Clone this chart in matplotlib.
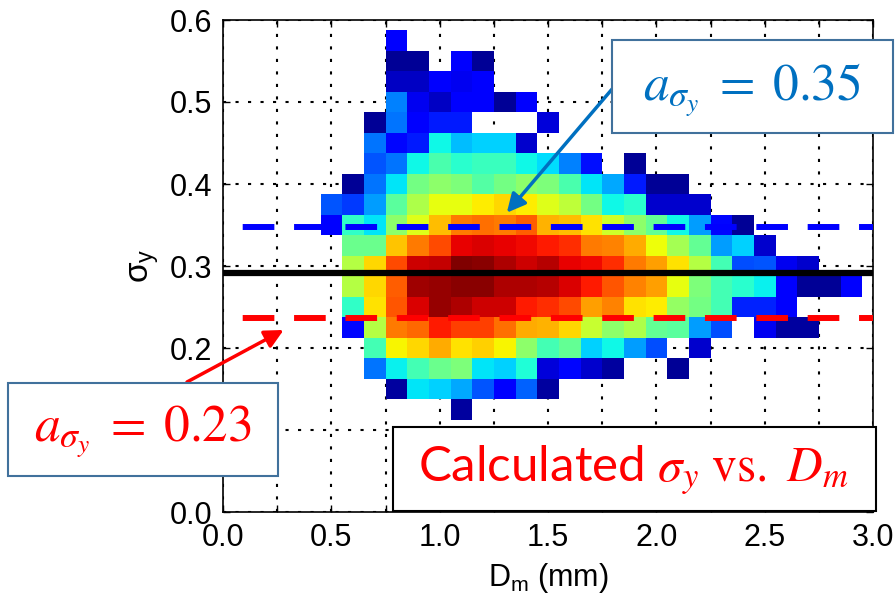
import numpy as np
import matplotlib
matplotlib.use("Agg")
import matplotlib.pyplot as plt
from matplotlib.patches import Rectangle
from matplotlib.ticker import MultipleLocator, FormatStrFormatter

plt.rcParams['font.family'] = ['Liberation Sans', 'DejaVu Sans']
plt.rcParams['mathtext.fontset'] = 'custom'
plt.rcParams['mathtext.rm'] = 'Liberation Sans'
plt.rcParams['mathtext.it'] = 'Liberation Sans:italic'
plt.rcParams['mathtext.sf'] = 'Liberation Sans'

_ = None

# bin centres
d_m = [0.5, 0.6, 0.7, 0.8, 0.9, 1.0, 1.1, 1.2, 1.3, 1.4, 1.5, 1.6, 1.7,
       1.8, 1.9, 2.0, 2.1, 2.2, 2.3, 2.4, 2.5, 2.6, 2.7, 2.8, 2.9]
sigma_y = [0.125, 0.15, 0.175, 0.2, 0.225, 0.25, 0.275, 0.3, 0.325, 0.35,
           0.375, 0.4, 0.425, 0.45, 0.475, 0.5, 0.525, 0.55, 0.575]

# relative count per bin (jet scale, 0..1), one row per sigma_y bin, bottom to top
density = [
    [_, _, _, _, _, _, .03, _, _, _, _, _, _, _, _, _, _, _, _, _, _, _, _, _, _],
    [_, _, _, .03, .35, .33, .29, .21, .12, .22, .03, _, _, _, _, _, _, _, _, _, _, _, _, _, _],
    [_, _, .24, .36, .43, .48, .50, .35, .33, .39, .08, .13, .07, .03, _, _, .02, _, _, _, _, _, _, _, _],
    [_, _, .43, .65, .68, .73, .67, .69, .65, .52, .43, .47, .33, .37, .28, .20, _, .07, _, _, _, _, _, _, _],
    [_, .13, .57, .78, .80, .88, .84, .84, .79, .73, .72, .68, .59, .52, .56, .47, .46, .28, .20, _, .10, .03, .03, _, _],
    [_, .41, .67, .82, .92, .98, .96, .93, .93, .88, .86, .83, .74, .77, .67, .66, .53, .49, .43, .16, .16, .12, _, _, _],
    [_, .57, .68, .81, .97, .98, .99, .99, .96, .96, .95, .92, .88, .82, .77, .74, .63, .50, .43, .40, .36, .12, .02, .02, .12],
    [_, .57, .68, .83, .93, .94, 1.0, .99, .96, .93, .95, .91, .90, .86, .78, .74, .67, .57, .43, .20, .21, .10, .07, _, _],
    [_, .48, .48, .70, .78, .83, .91, .92, .91, .90, .88, .86, .78, .77, .73, .64, .55, .47, .28, .33, .07, _, _, _, _],
    [.12, .41, .35, .52, .62, .71, .78, .79, .78, .81, .72, .71, .67, .60, .52, .47, .37, .28, .13, .02, _, _, _, _, _],
    [.21, .18, .28, .46, .56, .63, .63, .66, .68, .66, .62, .58, .49, .37, .40, .07, .07, .07, _, _, _, _, _, _, _],
    [_, .02, .24, .35, .49, .52, .50, .45, .49, .52, .50, .44, .35, .29, .15, .02, .02, _, _, _, _, _, _, _, _],
    [_, _, .21, .24, .37, .44, .40, .42, .42, .37, .34, .25, .14, _, .02, _, _, _, _, _, _, _, _, _, _],
    [_, _, .24, .13, .15, .37, .31, .33, .33, .07, _, _, _, _, _, _, _, _, _, _, _, _, _, _, _],
    [_, _, .02, .24, .12, .15, .15, _, _, _, .08, _, _, _, _, _, _, _, _, _, _, _, _, _, _],
    [_, _, _, .25, .10, .06, .11, .12, .02, .12, _, _, _, _, _, _, _, _, _, _, _, _, _, _, _],
    [_, _, _, .06, .06, .12, .10, .12, _, _, _, _, _, _, _, _, _, _, _, _, _, _, _, _, _],
    [_, _, _, .02, .02, _, .12, .02, _, _, _, _, _, _, _, _, _, _, _, _, _, _, _, _, _],
    [_, _, _, .12, _, _, _, _, _, _, _, _, _, _, _, _, _, _, _, _, _, _, _, _, _],
]

# reference lines
a_sigma_low = 0.237
sigma_mean = 0.292
a_sigma_high = 0.347

W, H = 896, 607
fig = plt.figure(figsize=(W / 100, H / 100), dpi=100)
ax = fig.add_axes([223 / W, 1 - 512 / H, 650 / W, 492 / H])

z = np.array([[np.nan if v is None else v for v in row] for row in density])
ax.pcolormesh(d_m, sigma_y, np.ma.masked_invalid(z), cmap='jet', vmin=0, vmax=1,
              shading='nearest', zorder=1)

dash = (5.3, (5.3, 3.3))
ax.axhline(a_sigma_high, color='#0000FF', lw=4.3, linestyle=dash, zorder=3)
ax.axhline(a_sigma_low, color='#FF0000', lw=4.3, linestyle=dash, zorder=3)
ax.axhline(sigma_mean, color='black', lw=4.5, zorder=3)

ax.set_xlim(0, 3)
ax.set_ylim(0, 0.6)
ax.xaxis.set_major_locator(MultipleLocator(0.5))
ax.xaxis.set_minor_locator(MultipleLocator(0.25))
ax.yaxis.set_major_locator(MultipleLocator(0.1))
ax.xaxis.set_major_formatter(FormatStrFormatter('%.1f'))
ax.yaxis.set_major_formatter(FormatStrFormatter('%.1f'))
ax.tick_params(which='both', direction='in', top=True, right=True,
               labelsize=22, length=5, width=1, pad=8)
ax.set_axisbelow(True)
ax.xaxis.grid(True, which='both', color='black', lw=1.5, linestyle=(0, (1.5, 4.5)))
ax.yaxis.grid(True, which='major', color='black', lw=1.5, linestyle=(0, (1.5, 4.5)))
for s in ax.spines.values():
    s.set_linewidth(1.2)

# the 0.1 label sits under the red annotation box in the original
fig.canvas.draw()
for lbl in ax.get_yticklabels():
    if lbl.get_text() == '0.1':
        lbl.set_visible(False)

ax.set_xlabel(r'D$_\mathrm{m}$ (mm)', fontsize=22)
ax.xaxis.set_label_coords(0.5, -0.1)
ax.set_ylabel(r'$\mathrm{\sigma_y}$', fontsize=24)
ax.yaxis.set_label_coords(-0.095, 0.5)


def px_box(x0, y0, x1, y1, ec, lw):
    r = Rectangle((x0 / W, 1 - y1 / H), (x1 - x0) / W, (y1 - y0) / H,
                  transform=fig.transFigure, fc='white', ec=ec, lw=lw, zorder=5)
    fig.add_artist(r)


blue_txt = '#0070C0'
box_edge = '#41719C'

# arrows from the boxes to the dashed lines
ax.annotate('', xy=(1.31, 0.365), xycoords='data',
            xytext=(613 / W, 1 - 88 / H), textcoords='figure fraction',
            arrowprops=dict(arrowstyle='-|>', color=blue_txt, lw=2.5,
                            mutation_scale=28, shrinkA=0, shrinkB=0),
            annotation_clip=False, zorder=6)
ax.annotate('', xy=(0.28, 0.222), xycoords='data',
            xytext=(187 / W, 1 - 382 / H), textcoords='figure fraction',
            arrowprops=dict(arrowstyle='-|>', color='#FF0000', lw=2.5,
                            mutation_scale=28, shrinkA=0, shrinkB=0),
            annotation_clip=False, zorder=6)

px_box(612, 40, 893, 133, box_edge, 1.5)
fig.text(752 / W, 1 - 90 / H, r'$a_{\sigma_y}\;=\;0.35$', color=blue_txt, fontsize=37,
         math_fontfamily='stix', ha='center', va='center', zorder=6)

px_box(8, 383, 278, 476, box_edge, 1.5)
fig.text(143 / W, 1 - 432 / H, r'$a_{\sigma_y}\;=\;0.23$', color='#FF0000', fontsize=37,
         math_fontfamily='stix', ha='center', va='center', zorder=6)

px_box(393, 427, 876, 511, 'black', 1.5)
fig.text(633 / W, 1 - 470 / H, r'Calculated $\sigma_y\ \mathrm{vs.}\ D_m$', color='#FF0000',
         fontsize=35.5, family='Lato', math_fontfamily='stix', ha='center', va='center',
         zorder=6)

fig.savefig('out.png', dpi=100)
